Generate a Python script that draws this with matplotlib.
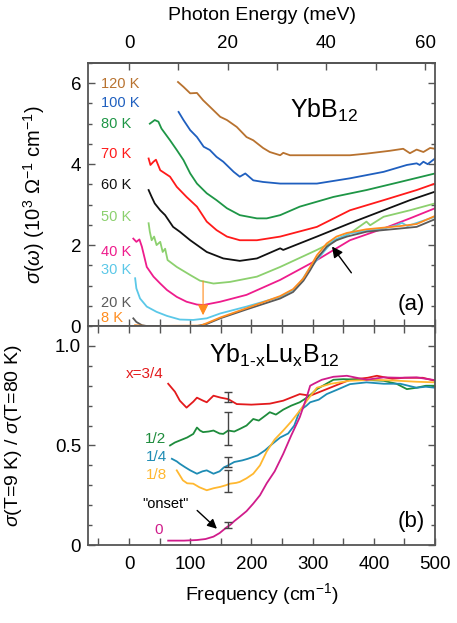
import matplotlib
matplotlib.use("Agg")
import matplotlib.pyplot as plt
from matplotlib.ticker import MultipleLocator, FixedLocator

plt.rcParams['font.family'] = ['Liberation Sans', 'DejaVu Sans']
plt.rcParams['mathtext.fontset'] = 'custom'
plt.rcParams['mathtext.rm'] = 'Liberation Sans'
plt.rcParams['mathtext.it'] = 'Liberation Sans:italic'
plt.rcParams['mathtext.bf'] = 'Liberation Sans:bold'

# ---------------- Panel (a): YbB12 optical conductivity ----------------
temps = ["120 K", "100 K", "80 K", "70 K", "60 K", "50 K", "40 K", "30 K", "20 K", "8 K"]
colors_a = ["#B8722F", "#1F5FBF", "#1E9646", "#FF1A1A", "#111111",
            "#8CD06E", "#EE1C8C", "#5BC8E8", "#5A5A5A", "#FF8C1E"]
label_y_a = [5.99, 5.51, 5.00, 4.26, 3.48, 2.70, 1.83, 1.38, 0.56, 0.19]

x120 = [80, 89, 100, 111, 121, 132, 149, 160, 176, 192, 203, 219, 230, 247, 252, 263, 307, 361, 388, 426, 448, 459, 470, 481, 492, 500]
y120 = [6.03, 5.91, 5.75, 5.76, 5.58, 5.42, 5.17, 5.09, 4.92, 4.67, 4.59, 4.40, 4.30, 4.22, 4.28, 4.22, 4.22, 4.22, 4.26, 4.33, 4.38, 4.27, 4.36, 4.30, 4.40, 4.38]
x100 = [81, 89, 100, 111, 122, 132, 143, 154, 171, 181, 190, 203, 219, 247, 252, 307, 361, 416, 454, 470, 475, 481, 488, 500]
y100 = [5.29, 5.09, 4.84, 4.67, 4.43, 4.35, 4.18, 4.06, 3.81, 3.69, 3.77, 3.60, 3.56, 3.52, 3.52, 3.52, 3.65, 3.81, 3.98, 4.02, 3.98, 4.06, 4.00, 4.14]
x80 = [34, 42, 48, 53, 67, 78, 89, 100, 111, 127, 143, 160, 181, 209, 225, 247, 279, 334, 388, 443, 500]
y80 = [5.00, 5.09, 5.05, 4.88, 4.59, 4.35, 4.10, 3.77, 3.52, 3.28, 3.11, 2.91, 2.74, 2.66, 2.66, 2.74, 2.95, 3.19, 3.36, 3.56, 3.77]
x70 = [32, 35, 40, 44, 51, 59, 67, 78, 94, 111, 127, 143, 160, 181, 209, 247, 307, 361, 416, 470, 500]
y70 = [4.14, 3.98, 4.06, 4.11, 3.85, 3.77, 3.69, 3.44, 3.19, 2.95, 2.58, 2.37, 2.21, 2.12, 2.12, 2.21, 2.45, 2.86, 3.11, 3.36, 3.52]
x60 = [32, 37, 42, 51, 59, 72, 83, 100, 127, 154, 181, 209, 247, 252, 307, 361, 416, 459, 500]
y60 = [3.36, 3.19, 3.03, 2.86, 2.74, 2.45, 2.33, 2.12, 1.83, 1.67, 1.61, 1.67, 1.92, 1.88, 2.21, 2.54, 2.86, 3.11, 3.32]
x50 = [32, 34, 37, 41, 45, 51, 55, 59, 63, 78, 100, 116, 138, 165, 209, 247, 307, 361, 388, 394, 416, 459, 500]
y50 = [2.54, 2.33, 2.12, 2.21, 2.00, 2.08, 1.83, 1.91, 1.63, 1.46, 1.26, 1.12, 1.05, 1.09, 1.22, 1.46, 1.88, 2.29, 2.58, 2.49, 2.70, 2.86, 3.03]
x40 = [7, 12, 17, 21, 29, 40, 51, 62, 78, 94, 111, 122, 149, 192, 247, 307, 361, 416, 459, 500]
y40 = [2.16, 2.08, 2.14, 1.96, 1.46, 1.22, 1.05, 0.89, 0.72, 0.60, 0.53, 0.52, 0.60, 0.77, 1.14, 1.63, 2.12, 2.41, 2.66, 2.91]
x30 = [10, 12, 18, 29, 45, 62, 83, 105, 127, 149, 192, 247, 268, 279, 293, 307, 334, 361, 416, 437, 446, 455, 500]
y30 = [1.18, 0.93, 0.68, 0.48, 0.35, 0.25, 0.16, 0.15, 0.19, 0.31, 0.48, 0.72, 0.89, 1.05, 1.38, 1.63, 2.12, 2.29, 2.41, 2.49, 2.55, 2.47, 2.70]
x20 = [7, 12, 21, 29, 111, 127, 149, 192, 247, 268, 285, 296, 307, 323, 339, 356, 388, 443, 470, 500]
y20 = [0.19, 0.10, 0.02, 0.00, 0.00, 0.05, 0.19, 0.41, 0.68, 0.84, 1.12, 1.38, 1.67, 1.96, 2.12, 2.21, 2.33, 2.41, 2.45, 2.64]
x8 = [10, 29, 117, 127, 149, 192, 247, 268, 285, 296, 307, 323, 339, 356, 388, 443, 470, 500]
y8 = [0.02, 0.00, 0.01, 0.07, 0.21, 0.44, 0.74, 0.91, 1.18, 1.46, 1.75, 2.04, 2.21, 2.30, 2.39, 2.47, 2.52, 2.72]

curves_a = [(x120, y120), (x100, y100), (x80, y80), (x70, y70), (x60, y60),
            (x50, y50), (x40, y40), (x30, y30), (x20, y20), (x8, y8)]

# ---------------- Panel (b): Yb1-xLuxB12 ratio ----------------
conc = ["x=3/4", "1/2", "1/4", "1/8", "0"]
colors_b = ["#E31A1C", "#1E8C3C", "#1E8CB4", "#FFB830", "#D01C8B"]
label_y_b = [0.858, 0.533, 0.442, 0.350, 0.075]

xb34 = [64, 75, 83, 94, 105, 111, 121, 127, 138, 150, 162, 176, 200, 230, 252, 279, 296, 323, 361, 390, 405, 430, 450, 480, 500]
yb34 = [0.81, 0.77, 0.725, 0.69, 0.72, 0.74, 0.725, 0.717, 0.75, 0.74, 0.733, 0.708, 0.705, 0.71, 0.725, 0.758, 0.75, 0.783, 0.83, 0.84, 0.85, 0.835, 0.84, 0.84, 0.825]
xb12 = [67, 75, 83, 95, 105, 111, 116, 121, 130, 138, 148, 154, 162, 172, 181, 192, 203, 212, 225, 230, 240, 252, 265, 279, 293, 307, 334, 350, 380, 416, 437, 454, 470, 485, 500]
yb12 = [0.50, 0.515, 0.525, 0.54, 0.558, 0.59, 0.575, 0.567, 0.57, 0.575, 0.56, 0.558, 0.575, 0.57, 0.583, 0.60, 0.633, 0.625, 0.655, 0.667, 0.655, 0.68, 0.70, 0.717, 0.745, 0.783, 0.83, 0.833, 0.83, 0.825, 0.81, 0.783, 0.79, 0.80, 0.80]
xb14 = [70, 78, 83, 92, 100, 111, 120, 127, 138, 148, 155, 162, 172, 185, 194, 210, 222, 235, 247, 260, 270, 279, 290, 296, 310, 323, 340, 361, 388, 416, 443, 470, 485, 500]
yb14 = [0.433, 0.42, 0.408, 0.39, 0.375, 0.358, 0.37, 0.375, 0.358, 0.37, 0.39, 0.40, 0.417, 0.425, 0.433, 0.45, 0.475, 0.51, 0.54, 0.56, 0.60, 0.675, 0.70, 0.717, 0.73, 0.758, 0.78, 0.808, 0.817, 0.81, 0.81, 0.79, 0.795, 0.79]
xb18 = [78, 83, 88, 95, 105, 115, 127, 138, 149, 158, 165, 175, 181, 192, 203, 214, 225, 238, 252, 265, 279, 293, 307, 330, 361, 400, 440, 470, 500]
yb18 = [0.375, 0.35, 0.325, 0.31, 0.308, 0.29, 0.275, 0.285, 0.292, 0.30, 0.308, 0.312, 0.317, 0.335, 0.358, 0.40, 0.47, 0.53, 0.575, 0.62, 0.675, 0.735, 0.79, 0.81, 0.825, 0.83, 0.825, 0.82, 0.817]
xb0 = [64, 90, 111, 125, 138, 148, 154, 160, 165, 172, 181, 192, 203, 214, 225, 238, 252, 265, 279, 290, 296, 302, 315, 334, 356, 388, 416, 443, 470, 500]
yb0 = [0.022, 0.022, 0.025, 0.03, 0.042, 0.06, 0.075, 0.09, 0.10, 0.12, 0.142, 0.17, 0.208, 0.25, 0.31, 0.37, 0.458, 0.55, 0.642, 0.74, 0.80, 0.81, 0.83, 0.845, 0.85, 0.83, 0.842, 0.84, 0.842, 0.828]

curves_b = [(xb34, yb34), (xb12, yb12), (xb14, yb14), (xb18, yb18), (xb0, yb0)]

err_x = 162
err_center = [0.742, 0.583, 0.417, 0.321, 0.100]
err_half = [0.025, 0.083, 0.025, 0.054, 0.017]

CM_PER_MEV = 8.0655

# ---------------- Figure ----------------
fig = plt.figure(figsize=(4.57, 6.23), dpi=100)
ax_a = fig.add_axes([0.1926, 0.4767, 0.7593, 0.4222])
ax_b = fig.add_axes([0.1926, 0.1252, 0.7593, 0.3515])

TICK_FS = 13.5
LAB_FS = 14
spine_col = "#555555"
for ax in (ax_a, ax_b):
    ax.set_xlim(-67, 500)
    for s in ax.spines.values():
        s.set_color(spine_col)
        s.set_linewidth(1.3)
    ax.tick_params(which='both', direction='in', top=True, right=True,
                   color=spine_col, labelsize=TICK_FS, width=1.0)
    ax.tick_params(which='major', length=5)
    ax.tick_params(which='minor', length=3)
    ax.tick_params(axis='y', pad=5)

# panel a
for (xs, ys), c in zip(curves_a, colors_a):
    ax_a.plot(xs, ys, color=c, lw=1.3)
for t, c, ly in zip(temps, colors_a, label_y_a):
    ax_a.text(-46, ly, t, color=c, fontsize=10.5, ha='left', va='center')
ax_a.set_ylim(0, 6.5)
ax_a.yaxis.set_major_locator(FixedLocator([0, 2, 4, 6]))
ax_a.yaxis.set_minor_locator(MultipleLocator(0.5))
ax_a.xaxis.set_major_locator(MultipleLocator(50))
ax_a.tick_params(axis='x', labelbottom=False, top=False)
ax_a.set_ylabel(r'$\sigma(\omega)$ (10$^3$ $\Omega^{-1}$ cm$^{-1}$)', fontsize=14.5)
ax_a.yaxis.set_label_coords(-0.118, 0.5)

sec = ax_a.secondary_xaxis('top', functions=(lambda x: x / CM_PER_MEV, lambda m: m * CM_PER_MEV))
sec.xaxis.set_major_locator(FixedLocator([0, 20, 40, 60]))
sec.xaxis.set_minor_locator(FixedLocator([10, 30, 50]))
sec.tick_params(which='both', direction='in', color=spine_col, labelsize=TICK_FS, width=1.0, pad=8)
sec.tick_params(which='major', length=5)
sec.tick_params(which='minor', length=5)
sec.spines['top'].set_color(spine_col)
sec.spines['top'].set_linewidth(1.3)
fig.text(0.1926 + 0.7593 / 2, 1 - 16 / 623, 'Photon Energy (meV)', fontsize=LAB_FS,
         ha='center', va='center')

ax_a.text(318, 5.33, r'YbB$_{12}$', fontsize=18, ha='center', va='center')
ax_a.text(484, 0.52, '(a)', fontsize=16, ha='right', va='center')
ax_a.annotate('', xy=(121, 0.2), xytext=(121, 1.18),
              arrowprops=dict(arrowstyle='-|>', color='#FF8C1E', lw=0.8, mutation_scale=16))
ax_a.annotate('', xy=(329, 2.02), xytext=(366, 1.26),
              arrowprops=dict(arrowstyle='-|>', color='black', lw=1.0, mutation_scale=16))

# panel b
for (xs, ys), c in zip(curves_b, colors_b):
    ax_b.plot(xs, ys, color=c, lw=1.3)
ax_b.errorbar([err_x] * len(err_center), err_center, yerr=err_half, fmt='none',
              ecolor='#444444', elinewidth=1.0, capsize=3, capthick=1.0, zorder=5)
label_x_b = [57, 60, 62, 62, 56]
for t, c, ly, lx in zip(conc, colors_b, label_y_b, label_x_b):
    ax_b.text(lx, ly, t, color=c, fontsize=11, ha='right', va='center')
ax_b.text(59, 0.208, '"onset"', color='black', fontsize=10.5, ha='center', va='center')
ax_b.annotate('', xy=(147, 0.072), xytext=(108, 0.183),
              arrowprops=dict(arrowstyle='-|>', color='black', lw=1.0, mutation_scale=14))
ax_b.text(130, 0.95, r'Yb$_{\mathrm{1\text{-}x}}$Lu$_{\mathrm{x}}$B$_{12}$', fontsize=18, ha='left', va='center')
ax_b.text(484, 0.117, '(b)', fontsize=16, ha='right', va='center')

ax_b.set_ylim(0, 1.1)
ax_b.yaxis.set_major_locator(FixedLocator([0, 0.5, 1.0]))
ax_b.yaxis.set_minor_locator(MultipleLocator(0.1))
ax_b.set_yticklabels(['0', '0.5', '1.0'])
ax_b.xaxis.set_major_locator(MultipleLocator(100))
ax_b.xaxis.set_minor_locator(MultipleLocator(50))
ax_b.tick_params(which='minor', axis='x', length=5)
ax_b.tick_params(axis='x', pad=8)
ax_b.set_xlabel(r'Frequency (cm$^{-1}$)', fontsize=LAB_FS, labelpad=6)
ax_b.set_ylabel(r'$\sigma$(T=9 K) / $\sigma$(T=80 K)', fontsize=14)
ax_b.yaxis.set_label_coords(-0.184, 0.5)

fig.savefig('out.png', dpi=100)
